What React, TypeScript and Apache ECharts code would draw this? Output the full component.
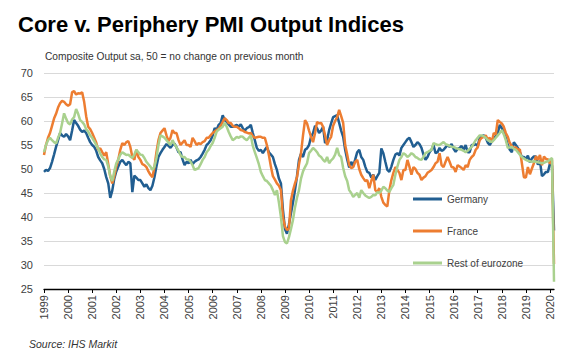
import React, { useEffect, useRef } from "react";
import * as echarts from "echarts";

const startYear = 1999;

// Monthly composite output PMI, Jan 1999 – Mar 2020
const germany: number[] = [
  49.4, 49.8, 49.6, 50.2, 51.5, 53.0, 54.6, 56.0, 57.5, 57.0, 56.7, 57.3,
  56.8, 56.0, 58.0, 60.2, 59.6, 59.0, 58.2, 57.7, 58.0, 57.5, 56.5, 55.6,
  55.0, 54.6, 53.8, 52.5, 51.8, 51.2, 50.0, 48.3, 47.0, 44.0, 45.5, 48.0,
  49.5, 50.5, 51.5, 51.9, 51.3, 50.8, 51.5, 51.2, 45.2, 48.6, 48.2, 47.7,
  47.7, 47.0, 46.3, 46.8, 46.0, 45.6, 46.5, 48.3, 50.5, 52.5, 53.3, 54.0,
  54.6, 55.2, 54.8, 54.4, 55.0, 55.3, 54.5, 53.5, 53.5, 52.0, 50.8, 51.5,
  51.2, 51.9, 51.0, 51.5, 51.8, 52.0, 52.5, 53.2, 54.0, 55.0, 55.4, 56.0,
  57.0, 58.5, 58.2, 59.2, 59.6, 61.2, 60.2, 59.8, 59.3, 58.8, 58.8, 59.0,
  59.2, 58.8, 59.3, 58.5, 58.0, 58.5, 58.7, 59.2, 57.5, 56.0, 54.4, 53.8,
  54.0, 53.3, 54.0, 54.6, 53.5, 53.0, 52.5, 51.0, 49.8, 48.0, 47.0, 41.5,
  37.5, 36.5, 38.5, 40.8, 43.0, 45.6, 48.5, 51.9, 53.2, 52.5, 54.0, 54.3,
  55.0, 56.7, 57.5, 59.0, 58.5, 57.5, 58.0, 58.8, 55.4, 56.0, 58.1, 59.5,
  60.8, 61.0, 61.2, 59.6, 58.0, 56.7, 54.0, 52.0, 50.3, 51.5, 50.6, 52.0,
  53.5, 54.0, 52.5, 51.9, 50.5, 49.4, 49.2, 48.2, 48.8, 47.7, 48.5, 49.2,
  54.3, 53.3, 51.5, 49.8, 49.4, 50.5, 51.9, 53.0, 53.3, 52.8, 54.4, 55.0,
  55.6, 56.2, 56.5, 55.6, 54.6, 55.0, 55.6, 55.2, 54.4, 53.0, 51.9, 52.5,
  53.5, 54.0, 55.0, 53.3, 53.5, 54.4, 53.8, 54.0, 54.5, 55.0, 54.6, 55.2,
  54.2, 53.6, 54.2, 54.4, 54.8, 54.0, 55.0, 53.5, 53.5, 55.0, 55.0, 55.2,
  54.8, 56.5, 56.8, 57.0, 56.5, 55.5, 55.0, 55.7, 56.5, 56.8, 57.5, 59.2,
  58.5, 57.7, 56.5, 55.0, 54.0, 53.5, 55.6, 55.0, 54.4, 53.5, 52.5, 52.5,
  52.1, 52.8, 51.4, 52.2, 52.6, 52.6, 50.9, 51.7, 48.5, 48.9, 49.4, 49.4,
  51.2, 50.7, 37.2,
];

const france: number[] = [
  52.9, 55.0, 56.5, 57.5, 59.0, 60.5, 61.5, 62.8, 63.7, 64.2, 64.0, 63.5,
  63.2, 63.5, 66.0, 66.2, 65.5, 65.8, 65.7, 66.0, 64.0, 61.0, 58.8, 58.3,
  57.5, 56.5, 55.5, 54.0, 54.3, 53.5, 52.8, 53.5, 51.0, 48.5, 47.0, 48.5,
  50.5, 52.0, 54.0, 55.4, 55.0, 55.6, 55.8, 54.6, 52.5, 51.9, 54.0, 52.5,
  51.9, 51.0, 50.8, 50.4, 49.5, 48.8, 48.3, 50.4, 53.5, 56.0, 57.5, 58.0,
  58.5, 57.0, 55.8, 56.5, 58.1, 57.5, 57.5, 56.0, 55.0, 55.5, 56.0, 55.0,
  55.0, 54.6, 56.5, 55.8, 55.0, 55.4, 55.2, 55.6, 55.8, 56.5, 56.5, 57.0,
  57.5, 57.8, 58.1, 58.4, 59.0, 59.8, 60.6, 60.2, 59.6, 59.6, 59.0, 58.8,
  58.8, 58.5, 58.1, 58.0, 57.7, 57.6, 57.4, 57.5, 56.8, 56.5, 56.6, 56.7,
  56.7, 56.5, 56.5, 55.0, 52.9, 50.5, 48.5, 47.8, 47.0, 46.5, 45.6, 40.0,
  38.0, 37.3, 37.5, 43.5, 45.5, 47.0, 48.3, 51.0, 53.3, 57.0, 60.2, 59.5,
  58.0, 56.7, 55.6, 57.5, 59.8, 59.5, 59.6, 58.8, 57.0, 55.0, 56.0, 56.7,
  59.0, 60.0, 60.8, 62.3, 61.0, 59.6, 55.0, 53.0, 50.8, 50.2, 50.4, 51.5,
  51.9, 50.0, 48.8, 48.1, 47.5, 47.7, 46.0, 47.5, 48.8, 45.6, 45.2, 46.0,
  44.2, 43.0, 42.5, 42.2, 45.6, 47.7, 49.2, 50.4, 49.8, 49.2, 47.7, 49.8,
  49.8, 51.9, 50.5, 48.8, 50.4, 50.0, 49.2, 48.8, 47.7, 48.2, 48.5, 49.2,
  49.5, 49.8, 50.4, 51.2, 51.5, 53.3, 50.8, 50.4, 51.5, 52.5, 51.5, 50.4,
  50.3, 49.4, 50.8, 50.5, 50.2, 49.8, 50.8, 50.4, 51.9, 52.5, 52.9, 54.0,
  54.5, 56.0, 56.5, 56.7, 57.0, 56.2, 56.5, 55.5, 57.5, 57.2, 60.2, 59.8,
  59.5, 58.8, 57.5, 56.7, 55.4, 54.8, 54.4, 54.5, 54.0, 54.1, 51.2, 48.3,
  48.2, 50.4, 48.9, 50.1, 51.2, 52.7, 51.9, 52.9, 50.8, 52.6, 52.1, 52.0,
  51.1, 52.0, 30.2,
];

const restOfEurozone: number[] = [
  53.5, 55.0, 56.0, 56.5, 56.0, 55.6, 55.3, 56.5, 57.5, 59.5, 61.6, 60.5,
  59.6, 59.3, 60.3, 60.8, 62.5, 61.5, 60.2, 59.8, 59.3, 58.3, 57.8, 57.0,
  56.5, 55.8, 55.0, 54.3, 53.2, 52.5, 52.0, 51.9, 50.5, 48.5, 47.5, 49.5,
  51.2, 52.0, 53.0, 53.5, 53.2, 52.9, 53.0, 52.6, 52.3, 53.0, 54.0, 53.5,
  53.0, 52.9, 52.3, 51.5, 51.0, 50.5, 49.8, 50.5, 52.3, 55.0, 57.0, 56.8,
  56.5, 56.0, 55.5, 55.0, 56.0, 55.2, 54.5, 53.8, 52.9, 52.5, 52.5, 52.0,
  52.0, 51.5, 50.8, 49.8, 50.0, 50.2, 51.0, 51.9, 52.5, 53.5, 54.0, 54.8,
  55.4, 56.5, 57.8, 58.2, 58.5, 58.8, 59.6, 58.8, 57.7, 56.8, 56.0, 56.3,
  56.7, 56.5, 56.8, 56.7, 56.3, 56.0, 56.5, 57.0, 54.8, 53.5, 52.3, 51.0,
  49.4, 48.5, 47.7, 47.5, 47.0, 46.5, 45.6, 44.6, 45.6, 43.0, 40.0, 36.0,
  34.8, 34.5, 35.8, 37.5, 39.4, 42.0, 44.0, 45.6, 48.0, 49.5, 50.4, 51.2,
  53.3, 53.8, 54.4, 54.0, 53.5, 52.8, 52.5, 51.9, 51.5, 52.5, 51.2, 51.8,
  52.2, 53.0, 54.4, 52.9, 52.5, 50.2, 48.5, 47.5, 45.6, 45.0, 44.2, 44.6,
  45.0, 44.0, 45.6, 45.0, 44.5, 44.2, 44.0, 44.2, 44.6, 44.5, 45.2, 45.0,
  45.5, 46.3, 46.0, 45.5, 45.2, 46.0, 46.7, 48.8, 50.5, 51.9, 52.5, 53.3,
  53.0, 52.5, 52.8, 53.3, 53.0, 52.5, 52.3, 52.0, 51.9, 52.5, 53.3, 53.5,
  53.8, 54.0, 55.4, 55.2, 55.0, 55.0, 55.3, 55.6, 55.2, 55.0, 54.8, 54.6,
  54.6, 54.4, 54.2, 54.1, 54.0, 53.8, 53.5, 53.8, 54.2, 54.6, 55.3, 56.0,
  56.5, 57.0, 57.0, 56.8, 56.5, 56.0, 55.8, 55.6, 56.0, 56.5, 57.0, 57.5,
  58.1, 57.2, 56.0, 54.4, 54.5, 54.6, 54.2, 54.0, 53.5, 53.0, 52.5, 52.2,
  51.9, 51.7, 51.6, 51.5, 51.6, 51.5, 51.4, 51.3, 51.2, 51.3, 51.5, 51.6,
  52.0, 52.3, 26.5,
];

const seriesNames = ["Germany", "France", "Rest of eurozone"];
const seriesColors = ["#215E91", "#ED7D31", "#A9D18E"];

const months: string[] = germany.map((_, i) => {
  const y = startYear + Math.floor(i / 12);
  const m = (i % 12) + 1;
  return `${y}-${m < 10 ? "0" + m : m}`;
});

const titleText = "Core v. Periphery PMI Output Indices";
const subtitleText = "Composite Output sa, 50 = no change on previous month";
const sourceText = "Source: IHS Markit";

export default function App() {
  const ref = useRef<HTMLDivElement>(null);
  useEffect(() => {
    if (!ref.current) return;
    const chart = echarts.init(ref.current, undefined, { renderer: "svg" });
    const font = "Liberation Sans, Arial, sans-serif";
    const dataSets = [germany, france, restOfEurozone];
    chart.setOption({
      animation: false,
      backgroundColor: "#ffffff",
      textStyle: { fontFamily: font },
      title: [
        {
          text: titleText,
          left: 13,
          top: 8,
          textStyle: { fontSize: 22, fontWeight: "bold", color: "#000", fontFamily: font },
        },
        {
          text: subtitleText,
          left: 40,
          top: 46,
          textStyle: { fontSize: 10.2, fontWeight: "normal", color: "#333", fontFamily: font },
        },
        {
          text: sourceText,
          left: 24,
          top: 333,
          textStyle: { fontSize: 10.5, fontWeight: "normal", fontStyle: "italic", color: "#333", fontFamily: font },
        },
      ],
      legend: {
        orient: "vertical",
        left: 408,
        top: 189,
        itemWidth: 29,
        itemHeight: 3,
        itemGap: 22,
        icon: "rect",
        data: seriesNames,
        textStyle: { fontSize: 10, color: "#404040", fontFamily: font },
      },
      grid: { left: 44, right: 16, top: 73, bottom: 66 },
      xAxis: {
        type: "category",
        data: months,
        boundaryGap: false,
        axisLine: { lineStyle: { color: "#000", width: 1.3 } },
        axisTick: { interval: 11, length: 4, lineStyle: { color: "#000" } },
        axisLabel: {
          interval: 11,
          rotate: 90,
          margin: 6,
          fontSize: 11,
          color: "#404040",
          formatter: (v: string) => v.slice(0, 4),
        },
        splitLine: { show: false },
      },
      yAxis: {
        type: "value",
        min: 25,
        max: 70,
        interval: 5,
        axisLine: { show: false },
        axisTick: { show: false },
        axisLabel: { fontSize: 11, color: "#404040", margin: 11 },
        splitLine: { lineStyle: { color: "#d9d9d9", width: 1 } },
      },
      series: seriesNames.map((name, i) => ({
        name,
        type: "line",
        data: dataSets[i],
        showSymbol: false,
        symbol: "none",
        lineStyle: { color: seriesColors[i], width: 2.5 },
        itemStyle: { color: seriesColors[i] },
        z: 2 + i,
      })),
    });
    return () => chart.dispose();
  }, []);
  return (
    <div
      ref={ref}
      style={{ position: "absolute", left: 0, top: 0, width: 570, height: 355 }}
    />
  );
}
